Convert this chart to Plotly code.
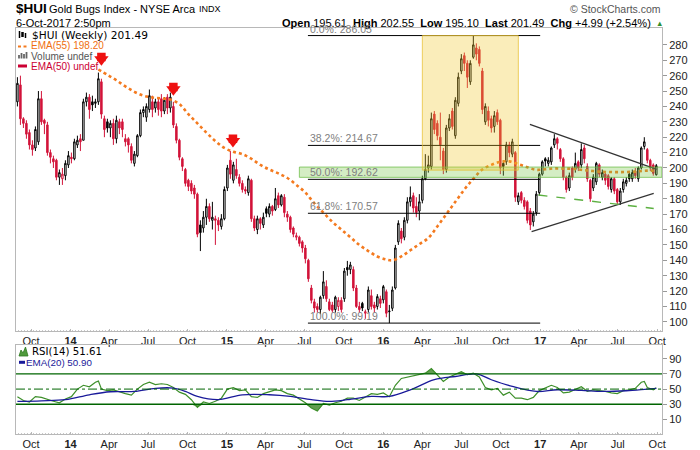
import pandas as pd
import plotly.graph_objects as go

START = pd.Timestamp("2013-09-06")
N_WEEKS = 214

opens = [243,254,232,229,223,215,213,217,245,231,228,210,206,205,194,193,195,202,207,206,
         215,219,218,243,246,243,242,243,256,232,230,226,229,219,230,230,219,219,214,203,
         208,221,236,233,238,243,239,243,245,237,246,239,240,227,218,206,199,192,190,187,
         183,163,161,168,175,166,167,166,162,167,187,205,192,199,194,190,186,184,192,167,
         160,167,163,173.5,170,175,173,182,176,181,170,168,161,155,155,152,148,140,122,113,
         110,108,117,123,113,111,108,110,114,115,135.4,134,134,122,110,112,105.6,108,117,111,
         110,115,114.3,119.6,106.6,108.8,122,152,159,155,166,178,182,175,172,179,193,200,201,235,
         229,220,211,199,226,237,221,242,263,273,268,256,272,278,277,263,230,237,232,227,
         236,231,203,204,215,209,210,178,184,179,178,172,165,171,184,196,206,203,204,215,
         219,212,206,194,187,200,199,204,202,213,201,192,187,191,202,194,196,195,186,193,
         186,178,186,190,196,193,198,193,200,214,212,205,202,195.61]
highs = [259,260,233,231,225,218,227,250,250,232,230,212,208,206,199,200,205,211,210,219,
         221,222,245,249,248,247,245,262,258,234,232,231,232,234,232,232,222,220,216,211,
         222,238,240,242,251,247,245,245,248,246,248,249,243,229,219,207,200,193,192,189,
         184,166,172,180,177,178,169,168,170,188,202,211,204,206,196,192,188,195,193,169,
         169,168,171,175,177,176,187,184,183,183,172,169,162,158,156,153,150,141,124,115,
         112,117,133,127,115,113,117,116,116,135,139.6,139,136,124,113,113,108,123,121,113,
         118,117,124,121,111,123,150,166,161,168,181,188,184,181,183,195,209,208,236,237,
         231,236,213,228,235,239,246,262,274,275,270,270,286.05,281,279,265,242,240,234,237,
         238,232,205,217,217,219,211,184,185,181,179,174,172,185,197,205,207,207,214,222,
         220,213,207,195,197,201,210,205,216,215,203,193,196,204,203,199,197,196,194,194,
         187,187,193,194,198,199,200,201,214,220,213,206,203,202.55]
lows = [240,228,226,219,212,208,211,215,228,222,208,203,200,192,189,189,192,200,203,205,
        213,211,218,240,232,237,239,241,232,220,223,220,215,216,222,220,214,210,203,201,
        207,220,233,230,236,233,236,234,233,235,235,236,226,216,205,198,188,185,183,180,
        155,146,158,163,165,160,150,159,160,166,185,193,190,193,188,184,183,182,165,159,
        157,160,161,168,168,169,172,174,175,168,165,158,155,153,149,145,138,126,112,106,
        106,105,115,113,107,106,106,107,106,113,130,131,120,109,106,107,102,106,108,106,
        108,109,112,103,99.19,107,121,150,151,153,164,175,171,168,166,177,192,197,199,222,
        218,205,196,197,224,225,219,240,261,263,252,254,271,270,266,235,228,227,223,223,
        228,196,195,202,207,207,178,176,177,173,164,159.7,162,169,182,195,201,201,202,213,
        212,204,192,184,185,192,197,198,200,203,191,178,185,189,194,192,189,186,184,183,
        176.5,176,184,188,191,191,193,191,199,212,203,198,195,195.10]
closes = [255,232,229,222,215,212,225,245,230,229,210,207,204,194,197,196,203,208,206,217,
          218,217,243,246,238,241,243,258,235,225,226,229,219,231,226,225,217,215,205,209,
          221,236,238,240,247,238,243,238,237,244,239,246,228,218,207,201,190,188,185,183,
          157,158,168,175,167,168,166,163,167,186,200,196,202,195,190,186,185,193,167,161,
          167,164,168,170.5,175,172,180,176,182,171,168,160,157,156,151,148,141,128,114,109,
          108,116,126,115,108,107.5,116,114,108,133,133.8,137,122,110,108,109,106.6,120.7,110,109,
          116.4,112,122.9,105.6,107,120.7,148,164,154,166,178,181,174,171,178,193,199,202,232,225,
          221,215,199,226,232,227,244,259,271,268,259,268,280,274,268,238,240,231,226,234,
          230,200,201,215,210,217,181,182,179,175,166,163,170,183,196,204,204.5,205,213,219,
          216,206,194,186,195,194,203,200,212,206,193,180,194,203,196,197,192,188,193,185,
          178,185,191,192,193,197,195,200,213,217,205,200,196.5,201.49]

ema55_weeks = [27,30,33,36,39,42,45,48,51,54,57,60,63,66,69,72,75,78,81,84,87,90,93,96,99,
               102,105,108,111,114,117,120,123,125,128,131,134,137,140,143,146,149,152,155,
               158,161,164,167,170,173,176,179,182,185,188,191,194,197,200,203,206,209,213]
ema55_vals = [264,260.5,257,253,249.5,247,245.8,245.2,244.5,241.5,235,229,223,217.5,213,210.5,
              209,206,202,199,196.5,193.5,189,184,177,171,165,160,155,150,146,142.5,140.5,140,
              142.5,146.5,150.5,154.5,162,170,178,186,193,199,202,204,204.3,202.5,200.5,198.8,
              199.2,199.7,199.6,199.5,198.8,198.2,197.6,197.4,197.3,197.4,197.6,198.2,198.2]

rsi_weeks = [0,2,4,6,8,10,12,14,16,18,20,22,24,26,27,28,30,32,34,36,38,40,42,44,46,48,50,52,
             54,56,58,60,62,64,66,68,70,72,74,76,78,80,82,84,86,88,90,92,94,96,98,100,102,104,
             106,108,110,112,114,116,118,120,122,124,126,128,130,132,134,136,138,140,142,144,
             146,148,150,152,154,156,158,160,162,164,166,168,170,172,174,176,178,180,182,184,
             186,188,190,192,194,196,198,200,202,204,206,208,209,210,212,213]
rsi_vals = [40,35,33,40,39,36,34,32,37,40,50,55,53,59,60.5,50,48,49,47,44,42,50,56,59,56,57,
            56,52,46,43,36,26,33,31,34,38,50,52,48,49,40,39,44,46,49,48,44,42,37,32,25,21,31,29,
            32,34,38,38,35,39,44,43,45,40,55,64,66,67,69,71,77,69,60,66,70,73,69,71,66,52,49,51,
            42,46,38,38,36,39,48,51,55,52,45,46,49,53,47,49,48,47,45,44,48,49,51,59,60,52,49,51.61]
rsi_ema_weeks = [0,8,16,24,31,39,46,52,56,60,67,75,84,91,98,104,110,118,124,131,139,146,153,
                 158,165,173,180,188,195,203,210,213]
rsi_ema_vals = [33.7,34.5,36,42.5,46.5,46.9,51,51.3,47,40.3,36,42.5,42.5,40.3,36,33.7,36,40.3,
                40.3,49,62.3,66.6,70,62.3,53.5,46.9,49.1,48.2,46.9,47.8,50,50.9]

fib_pcts = ["0.0%", "38.2%", "50.0%", "61.8%", "100.0%"]
fib_levels = [286.05, 214.67, 192.62, 170.57, 99.19]
fib_span = ["2015-07-16", "2017-01-08"]
box_x = ["2016-04-08", "2016-11-18"]
box_y = [198.6, 286.05]
band_x = ["2015-06-26", "2017-10-19"]
band_y = [193.9, 200.6]
tri_upper_x = ["2016-12-15", "2017-10-07"]
tri_upper_y = [228.3, 199.1]
tri_lower_x = ["2016-12-19", "2017-09-30"]
tri_lower_y = [158.6, 183.5]
support_x = ["2017-01-04", "2017-09-30"]
support_y = [182.4, 173.7]
arrow_x = ["2014-03-21", "2014-09-05", "2015-01-22"]
arrow_tip = [266.8, 247.3, 213.7]

tick_months = ["2013-10-01", "2014-01-01", "2014-04-01", "2014-07-01", "2014-10-01",
               "2015-01-01", "2015-04-01", "2015-07-01", "2015-10-01", "2016-01-01",
               "2016-04-01", "2016-07-01", "2016-10-01", "2017-01-01", "2017-04-01",
               "2017-07-01", "2017-10-01"]
tick_labels = ["Oct", "<b>14</b>", "Apr", "Jul", "Oct", "<b>15</b>", "Apr", "Jul", "Oct",
               "<b>16</b>", "Apr", "Jul", "Oct", "<b>17</b>", "Apr", "Jul", "Oct"]

# ---------------------------------------------------------------------------
SANS = "Liberation Sans, Arial, sans-serif"
VERD = "DejaVu Sans, Verdana, sans-serif"
RED = "#d2143a"


def wk(i):
    return START + pd.Timedelta(days=7 * i)


dates = [wk(i) for i in range(N_WEEKS)]
tickvals = [pd.Timestamp(m) + pd.Timedelta(days=7) for m in tick_months]
xr = [START - pd.Timedelta(days=3.3), wk(N_WEEKS - 1) + pd.Timedelta(days=13.3)]

fig = go.Figure()

black_i = [k for k in range(N_WEEKS) if k == 0 or closes[k] >= closes[k - 1]]
red_i = [k for k in range(N_WEEKS) if k not in black_i]
for idx, col in ((black_i, "#000000"), (red_i, RED)):
    fig.add_trace(go.Candlestick(
        x=[dates[k] for k in idx], open=[opens[k] for k in idx], high=[highs[k] for k in idx],
        low=[lows[k] for k in idx], close=[closes[k] for k in idx],
        increasing=dict(line=dict(color=col, width=1), fillcolor="#ffffff"),
        decreasing=dict(line=dict(color=col, width=1), fillcolor=col),
        whiskerwidth=0, showlegend=False, hoverinfo="skip", xaxis="x", yaxis="y"))

fig.add_trace(go.Scatter(x=[wk(i) for i in ema55_weeks], y=ema55_vals, mode="lines",
                         line=dict(color="#f47a1f", width=2.6, dash="dot", shape="spline"),
                         showlegend=False, hoverinfo="skip"))

for xs, ys, col, dash, w in ((tri_upper_x, tri_upper_y, "#333333", "solid", 1.2),
                             (tri_lower_x, tri_lower_y, "#333333", "solid", 1.2),
                             (support_x, support_y, "#5cb040", "dash", 1.4)):
    fig.add_trace(go.Scatter(x=xs, y=ys, mode="lines", line=dict(color=col, width=w, dash=dash),
                             showlegend=False, hoverinfo="skip"))

# red arrows (head + shaft)
UNIT = (290.97 - 94.35) / (330.7 - 27.7)
fig.add_trace(go.Scatter(x=arrow_x, y=[t + 8.2 * UNIT for t in arrow_tip], mode="markers",
                         marker=dict(symbol="square", size=8.5, color="#ee1111", line=dict(width=0)),
                         showlegend=False, hoverinfo="skip"))
fig.add_trace(go.Scatter(x=arrow_x, y=[t + 5.75 * UNIT for t in arrow_tip], mode="markers",
                         marker=dict(symbol="triangle-down", size=12.5, color="#ee1111", line=dict(width=0)),
                         showlegend=False, hoverinfo="skip"))

# RSI panel
rx = [wk(i) for i in rsi_weeks]
fig.add_trace(go.Scatter(x=rx, y=[70] * len(rx), mode="lines", line=dict(width=0),
                         showlegend=False, hoverinfo="skip", xaxis="x2", yaxis="y2"))
fig.add_trace(go.Scatter(x=rx, y=[max(v, 70) for v in rsi_vals], mode="lines", line=dict(width=0),
                         fill="tonexty", fillcolor="rgba(70,140,50,0.85)",
                         showlegend=False, hoverinfo="skip", xaxis="x2", yaxis="y2"))
fig.add_trace(go.Scatter(x=rx, y=[30] * len(rx), mode="lines", line=dict(width=0),
                         showlegend=False, hoverinfo="skip", xaxis="x2", yaxis="y2"))
fig.add_trace(go.Scatter(x=rx, y=[min(v, 30) for v in rsi_vals], mode="lines", line=dict(width=0),
                         fill="tonexty", fillcolor="rgba(70,140,50,0.85)",
                         showlegend=False, hoverinfo="skip", xaxis="x2", yaxis="y2"))
fig.add_trace(go.Scatter(x=rx, y=rsi_vals, mode="lines", line=dict(color="#3d8f2a", width=1.2),
                         showlegend=False, hoverinfo="skip", xaxis="x2", yaxis="y2"))
fig.add_trace(go.Scatter(x=[wk(i) for i in rsi_ema_weeks], y=rsi_ema_vals, mode="lines",
                         line=dict(color="#1a1a9a", width=1.3, shape="spline"),
                         showlegend=False, hoverinfo="skip", xaxis="x2", yaxis="y2"))

shapes = []
for lv in fib_levels:
    shapes.append(dict(type="line", xref="x", yref="y", x0=fib_span[0], x1=fib_span[1],
                       y0=lv, y1=lv, line=dict(color="#000000", width=1)))
shapes.append(dict(type="rect", xref="x", yref="y", x0=band_x[0], x1=band_x[1], y0=band_y[0],
                   y1=band_y[1], fillcolor="rgba(120,200,70,0.32)",
                   line=dict(color="rgba(100,185,60,0.7)", width=1), layer="above"))
shapes.append(dict(type="rect", xref="x", yref="y", x0=box_x[0], x1=box_x[1], y0=box_y[0],
                   y1=box_y[1], fillcolor="rgba(240,200,40,0.32)",
                   line=dict(color="rgba(230,190,50,0.75)", width=1), layer="above"))
for lv, dash in ((70, "solid"), (30, "solid"), (50, "dashdot")):
    shapes.append(dict(type="line", xref="paper", yref="y2", x0=0, x1=1, y0=lv, y1=lv,
                       line=dict(color="#006400", width=1.3 if dash == "solid" else 1, dash=dash)))


def P(px, py):
    return (px - 16) / 646.0, (434 - py) / 406.0


def seg(x0, y0, x1, y1, col, w):
    a, b = P(x0, y0)
    c, d = P(x1, y1)
    shapes.append(dict(type="line", xref="paper", yref="paper", x0=a, y0=b, x1=c, y1=d,
                       line=dict(color=col, width=w)))


# legend icons
seg(19.5, 31, 19.5, 38, "#000", 1.5)
seg(22.5, 32, 22.5, 37, "#000", 2.5)
seg(25.5, 33, 25.5, 38, "#000", 1.5)
seg(18, 46.5, 21, 46.5, "#f47a1f", 2)
seg(23.5, 46.5, 26.5, 46.5, "#f47a1f", 2)
for bx, top in ((19, 55), (21.5, 53), (24, 54), (26.5, 52)):
    seg(bx, 58.5, bx, top, "#666", 1.8)
seg(18, 66, 27, 66, "#cc0033", 3)
seg(19, 362.3, 25, 362.3, "#1a1a9a", 3)
pts = [P(x, y) for x, y in ((19, 356), (21, 350), (23, 353), (25.5, 347), (28, 356))]
path = "M " + " L ".join(f"{a},{b}" for a, b in pts) + " Z"
shapes.append(dict(type="path", xref="paper", yref="paper", path=path,
                   fillcolor="#4f9a3c", line=dict(color="#2e7a20", width=0.8)))

ann = []


def txt(px, py, s, size, color="#000", family=SANS, xanchor="left"):
    a, b = P(px, py)
    ann.append(dict(xref="paper", yref="paper", x=a, y=b, text=s, showarrow=False,
                    xanchor=xanchor, yanchor="middle", font=dict(family=family, size=size, color=color),
                    borderpad=0))


txt(15, 8.3, "<b>$HUI</b>", 13.5)
txt(48, 8.5, "Gold Bugs Index - NYSE Arca", 11)
txt(197.5, 9, "INDX", 9)
txt(15, 23.3, "6-Oct-2017 2:50pm", 11)
txt(652, 23.3, "<b>Open</b> 195.61  <b>High</b> 202.55  <b>Low</b> 195.10  <b>Last</b> 201.49  "
               "<b>Chg</b> +4.99 (+2.54%)", 11, xanchor="right")
txt(655, 23.5, "▲", 7.5, color="#2f8f2f")
txt(662, 9, "© StockCharts.com", 10.5, color="#555", xanchor="right")

txt(30.5, 35, "$HUI (Weekly) 201.49", 10.6, family=VERD)
txt(29.5, 46, "EMA(55) 198.20", 10, color="#f06f10")
txt(29.5, 56, "Volume undef", 10, color="#555")
txt(29.5, 66, "EMA(50) undef", 10, color="#cc0033")
txt(30.5, 351.5, "RSI(14) 51.61", 10.2, family=VERD)
txt(25, 362.5, "EMA(20) 50.90", 9.8, color="#1a1a9a")

for pct, lv in zip(fib_pcts, fib_levels):
    ann.append(dict(xref="x", yref="y", x="2015-07-18", y=lv, text=f"{pct}: {lv:.2f}",
                    showarrow=False, xanchor="left", yanchor="bottom", yshift=0,
                    font=dict(family=SANS, size=10.5, color="#808080"), borderpad=0))

axis_common = dict(type="date", range=xr, tickvals=tickvals, ticktext=tick_labels,
                   tickfont=dict(family=SANS, size=11, color="#222"), showline=True,
                   linecolor="#b8b8b8", mirror=True, ticks="inside", ticklen=2,
                   tickcolor="#b8b8b8", showgrid=False, zeroline=False,
                   minor=dict(ticks="inside", ticklen=1, dtick=7 * 86400000, tickcolor="#c8c8c8",
                              showgrid=False))
yaxis_common = dict(side="right", showline=True, linecolor="#b8b8b8", mirror=True,
                    ticks="outside", ticklen=4, tickcolor="#999", showgrid=False, zeroline=False,
                    tickfont=dict(family=SANS, size=11, color="#222"))

fig.update_layout(
    width=700, height=450, margin=dict(l=16, r=38, t=28, b=16, autoexpand=False),
    paper_bgcolor="#ffffff", plot_bgcolor="#ffffff", showlegend=False,
    xaxis=dict(anchor="y", domain=[0, 1], rangeslider=dict(visible=False), **axis_common),
    xaxis2=dict(anchor="y2", domain=[0, 1], matches="x", **axis_common),
    yaxis=dict(domain=[0.2548, 1.0], range=[94.35, 290.97], tickvals=list(range(100, 290, 10)),
               anchor="x", **yaxis_common),
    yaxis2=dict(domain=[0.0, 0.2196], range=[-9.2, 108.3], tickvals=[10, 30, 50, 70, 90],
                anchor="x2", **yaxis_common),
    shapes=shapes, annotations=ann,
)

fig.write_html("out.html", config={"displayModeBar": False},
               post_script="document.body.style.margin='0px';"
                           "document.documentElement.style.overflow='hidden';")
